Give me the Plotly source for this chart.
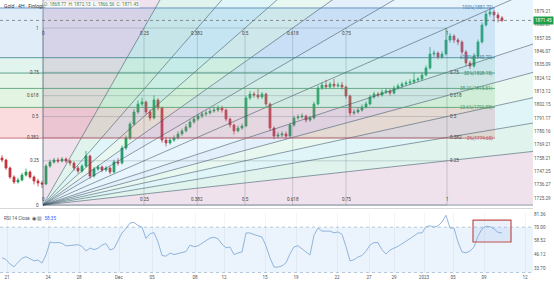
import plotly.graph_objects as go
from plotly.subplots import make_subplots

# ---------------- data ----------------
first_open = 1758.2
closes = [1756.6, 1750.0, 1742.6, 1738.5, 1740.1, 1744.2, 1746.7, 1742.6, 1739.3, 1737.7,
          1736.8, 1751.6, 1754.9, 1756.6, 1755.8, 1757.4, 1755.8, 1754.1, 1750.0, 1747.5,
          1751.6, 1759.9, 1743.4, 1749.2, 1750.8, 1748.4, 1750.0, 1746.7, 1754.9, 1754.1,
          1766.5, 1774.7, 1786.2, 1796.1, 1802.7, 1804.3, 1796.1, 1791.2, 1806.0, 1799.4,
          1773.0, 1770.6, 1773.0, 1774.7, 1778.0, 1780.5, 1783.7, 1787.9, 1790.3, 1792.8,
          1794.4, 1795.3, 1796.9, 1797.7, 1799.4, 1797.7, 1790.3, 1785.4, 1780.5, 1782.9,
          1784.6, 1807.6, 1810.9, 1810.1, 1808.4, 1810.9, 1802.7, 1782.9, 1776.3, 1777.2,
          1778.0, 1776.3, 1785.4, 1791.2, 1792.0, 1792.8, 1789.5, 1791.2, 1802.7, 1815.8,
          1818.3, 1816.7, 1819.1, 1817.5, 1818.3, 1816.7, 1809.3, 1795.3, 1796.1, 1797.7,
          1800.2, 1802.7, 1808.4, 1810.9, 1810.1, 1812.5, 1813.4, 1811.7, 1815.8, 1817.5,
          1819.1, 1820.0, 1820.8, 1822.4, 1823.2, 1826.5, 1832.3, 1843.8, 1844.6, 1841.4,
          1843.8, 1855.3, 1858.6, 1855.3, 1853.7, 1845.5, 1836.4, 1833.9, 1842.2, 1853.7,
          1867.7, 1876.7, 1878.4, 1875.9, 1873.5, 1871.45]
highs = [1760.5, 1757.5, 1751.2, 1744.0, 1742.0, 1746.0, 1749.5, 1748.0, 1743.8, 1741.0,
         1739.5, 1753.2, 1757.0, 1758.3, 1758.5, 1759.0, 1758.6, 1757.0, 1755.3, 1751.8,
         1753.4, 1764.0, 1761.0, 1751.0, 1752.6, 1752.0, 1751.5, 1751.2, 1756.8, 1758.0,
         1768.5, 1776.9, 1788.0, 1798.5, 1805.6, 1808.0, 1805.5, 1798.0, 1809.8, 1807.5,
         1800.5, 1775.5, 1775.0, 1776.8, 1780.2, 1782.4, 1786.0, 1790.0, 1792.5, 1794.8,
         1796.5, 1797.6, 1799.2, 1800.6, 1801.8, 1801.2, 1798.8, 1791.5, 1786.5, 1785.0,
         1786.6, 1809.5, 1813.5, 1812.8, 1815.0, 1812.6, 1812.0, 1803.8, 1784.2, 1779.5,
         1780.2, 1779.8, 1787.2, 1793.0, 1794.2, 1795.0, 1794.0, 1793.0, 1804.5, 1818.0,
         1820.6, 1822.5, 1821.0, 1823.4, 1820.4, 1820.8, 1817.8, 1810.4, 1798.4, 1800.0,
         1802.3, 1804.6, 1810.2, 1812.8, 1812.6, 1814.5, 1815.6, 1815.0, 1817.8, 1819.4,
         1821.0, 1822.0, 1823.2, 1828.5, 1825.0, 1828.6, 1834.5, 1849.6, 1846.8, 1846.0,
         1846.0, 1865.2, 1861.0, 1860.0, 1857.0, 1855.0, 1847.0, 1838.2, 1844.5, 1855.8,
         1869.8, 1878.8, 1881.7, 1880.2, 1878.0, 1875.0]
lows = [1754.8, 1748.6, 1741.0, 1736.9, 1737.2, 1739.0, 1743.0, 1741.2, 1736.5, 1734.8,
        1733.6, 1735.9, 1750.2, 1753.5, 1754.0, 1754.6, 1754.2, 1752.0, 1748.0, 1745.6,
        1746.2, 1750.4, 1741.2, 1742.3, 1747.8, 1746.6, 1746.9, 1744.8, 1745.5, 1752.0,
        1752.8, 1765.0, 1773.0, 1784.8, 1794.5, 1800.6, 1794.0, 1789.0, 1790.0, 1797.5,
        1770.8, 1767.8, 1769.2, 1771.5, 1773.5, 1776.5, 1779.2, 1782.5, 1786.4, 1788.9,
        1791.0, 1792.8, 1793.9, 1795.5, 1796.2, 1795.6, 1788.4, 1783.2, 1777.6, 1779.2,
        1781.5, 1783.6, 1806.0, 1807.8, 1806.5, 1806.9, 1800.5, 1780.6, 1773.8, 1774.6,
        1775.5, 1774.0, 1775.2, 1784.0, 1789.8, 1790.6, 1787.5, 1788.0, 1790.0, 1801.5,
        1814.2, 1815.0, 1815.4, 1816.0, 1816.2, 1814.5, 1807.2, 1792.8, 1793.5, 1794.8,
        1796.4, 1799.0, 1801.5, 1807.0, 1808.2, 1808.8, 1811.0, 1809.6, 1810.5, 1814.4,
        1816.0, 1817.6, 1818.5, 1819.6, 1820.8, 1822.0, 1825.4, 1831.0, 1841.5, 1839.4,
        1840.0, 1842.6, 1853.2, 1852.8, 1851.0, 1843.2, 1833.8, 1831.6, 1832.6, 1841.0,
        1852.4, 1866.4, 1874.6, 1870.5, 1869.8, 1870.2]
rsi = [43.0, 41.5, 37.5, 35.0, 39.0, 42.5, 44.0, 42.0, 40.3, 41.0,
       38.3, 45.5, 56.9, 56.2, 56.5, 55.8, 53.5, 53.8, 54.0, 54.6,
       53.0, 49.0, 51.6, 50.2, 51.4, 54.2, 55.5, 49.8, 51.2, 58.5,
       64.9, 68.7, 73.7, 74.2, 71.5, 70.1, 60.0, 64.2, 65.2, 57.0,
       45.0, 44.4, 47.2, 45.8, 46.5, 47.5, 48.5, 54.2, 52.8, 53.5,
       55.8, 57.8, 60.4, 61.1, 59.8, 55.0, 51.8, 52.5, 45.8, 47.2,
       48.1, 64.9, 64.9, 63.5, 62.4, 61.3, 53.5, 42.8, 34.8, 34.8,
       35.8, 38.6, 46.5, 52.6, 53.6, 50.8, 47.6, 45.4, 63.0, 69.2,
       66.5, 66.8, 66.5, 65.0, 65.8, 63.6, 53.0, 40.2, 41.3, 43.7,
       45.0, 48.8, 54.2, 56.4, 56.4, 50.0, 46.3, 49.8, 51.2, 53.1,
       55.3, 57.5, 60.4, 62.2, 64.9, 64.9, 70.5, 71.2, 70.1, 71.0,
       74.6, 80.5, 69.2, 69.2, 56.9, 48.1, 47.4, 48.9, 52.5, 62.0,
       68.6, 70.8, 70.5, 68.5, 65.5, 64.9]

x_tick_pos = [1.25, 11.5, 19.25, 29.25, 37.5, 48.25, 55.5, 65.75, 73.5, 83.75,
              91.75, 98, 105.5, 112.75, 120.5, 130.75]
x_tick_text = ['21', '24', '28', 'Dec', '05', '08', '12', '15', '19', '22',
               '27', '29', '2023', '05', '09', '12']
price_ticks = [1879.21, 1868.07, 1857.05, 1846.07, 1835.09, 1824.12, 1813.12, 1802.15,
               1791.17, 1780.16, 1769.21, 1758.21, 1747.25, 1736.27, 1725.29]
rsi_ticks = [81.36, 70.00, 58.52, 46.12, 33.70]

fan_levels = [0, 0.25, 0.382, 0.5, 0.618, 0.75, 1]
fan_level_text = ['0', '0.25', '0.382', '0.5', '0.618', '0.75', '1']
fan_start = (10.25, 1719.5)
fan_end = (111.25, 1865.2)

retr_levels = [0, 0.236, 0.382, 0.5, 0.618, 1]
retr_low, retr_high = 1774.6, 1881.7
retr_x = (-6, 123.25)
last_price = 1871.45
rsi_box = (117.75, 127.25, 56.9, 76.3)

# ---------------- styles ----------------
wedge_colors = ['rgba(175,110,165,0.20)', 'rgba(70,190,150,0.17)', 'rgba(50,185,205,0.15)',
                'rgba(90,200,150,0.14)', 'rgba(70,150,230,0.15)', 'rgba(100,185,235,0.15)']
retr_band_colors = ['rgba(235,95,105,0.22)', 'rgba(120,200,110,0.20)', 'rgba(110,205,130,0.18)',
                    'rgba(90,200,160,0.18)', 'rgba(100,165,225,0.20)']
retr_line_colors = ['#c05060', '#4f9a6a', '#4a9a70', '#3c8c78', '#3a7f8c', '#4f7fb0']
FS = 4.6

fig = make_subplots(rows=2, cols=1, shared_xaxes=True)

x0, y0 = fan_start
x1, y1 = fan_end
dx, dy = x1 - x0, y1 - y0
K = 12.0

rays = [(dx, L * dy) for L in fan_levels] + [(L * dx, dy) for L in fan_levels[-2::-1]]
wedge_k = list(range(6)) + list(range(5, -1, -1))

for j in range(len(retr_levels) - 1):
    pa = retr_low + retr_levels[j] * (retr_high - retr_low)
    pb = retr_low + retr_levels[j + 1] * (retr_high - retr_low)
    fig.add_trace(go.Scatter(x=[retr_x[0], retr_x[1], retr_x[1], retr_x[0]], y=[pa, pa, pb, pb],
                             fill='toself', fillcolor=retr_band_colors[j], mode='none',
                             hoverinfo='skip', showlegend=False), row=1, col=1)

for j in range(len(rays) - 1):
    a, b = rays[j], rays[j + 1]
    fig.add_trace(go.Scatter(x=[x0, x0 + K * a[0], x0 + K * b[0]],
                             y=[y0, y0 + K * a[1], y0 + K * b[1]],
                             fill='toself', fillcolor=wedge_colors[wedge_k[j]], mode='none',
                             hoverinfo='skip', showlegend=False), row=1, col=1)

gx, gy = [], []
for L in fan_levels:
    gx += [x0, x1, None]
    gy += [y0 + L * dy, y0 + L * dy, None]
    gx += [x0 + L * dx, x0 + L * dx, None]
    gy += [y0, y1, None]
fig.add_trace(go.Scatter(x=gx, y=gy, mode='lines', line=dict(color='rgba(90,110,120,0.45)', width=0.6),
                         hoverinfo='skip', showlegend=False), row=1, col=1)

rx, ry = [], []
for r in rays:
    rx += [x0, x0 + K * r[0], None]
    ry += [y0, y0 + K * r[1], None]
fig.add_trace(go.Scatter(x=rx, y=ry, mode='lines', line=dict(color='rgba(60,85,100,0.8)', width=0.7),
                         hoverinfo='skip', showlegend=False), row=1, col=1)

for j, L in enumerate(retr_levels):
    p = retr_low + L * (retr_high - retr_low)
    fig.add_trace(go.Scatter(x=[retr_x[0], retr_x[1]], y=[p, p], mode='lines',
                             line=dict(color=retr_line_colors[j], width=0.8),
                             hoverinfo='skip', showlegend=False), row=1, col=1)

opens = [first_open] + closes[:-1]
xs = list(range(len(closes)))
fig.add_trace(go.Candlestick(x=xs, open=opens, high=highs, low=lows, close=closes,
                             increasing=dict(line=dict(color='#1f9e55', width=0.8), fillcolor='#1f9e55'),
                             decreasing=dict(line=dict(color='#c8323c', width=0.8), fillcolor='#c8323c'),
                             whiskerwidth=0, showlegend=False, hoverinfo='skip'), row=1, col=1)

fig.add_trace(go.Scatter(x=xs, y=rsi, mode='lines', line=dict(color='#86aed8', width=0.9),
                         hoverinfo='skip', showlegend=False), row=2, col=1)

shapes = []
shapes.append(dict(type='rect', xref='x2 domain', yref='y2', x0=0, x1=1, y0=30, y1=70,
                   fillcolor='#ebf3fc', line=dict(width=0), layer='below'))
shapes.append(dict(type='line', xref='x2 domain', yref='y2', x0=0, x1=1, y0=70, y1=70,
                   line=dict(color='#9ab3cc', width=0.7, dash='dot')))
shapes.append(dict(type='line', xref='x2 domain', yref='y2', x0=0, x1=1, y0=30, y1=30,
                   line=dict(color='#9ab3cc', width=0.7, dash='dot')))
shapes.append(dict(type='rect', xref='x2', yref='y2', x0=rsi_box[0], x1=rsi_box[1],
                   y0=rsi_box[2], y1=rsi_box[3], fillcolor='rgba(120,170,230,0.15)',
                   line=dict(color='#c0504d', width=1.2)))
shapes.append(dict(type='line', xref='x domain', yref='y', x0=0, x1=1, y0=last_price, y1=last_price,
                   line=dict(color='#666', width=0.7, dash='dot')))
fig.update_layout(shapes=shapes)

ann = []
for L, t in zip(fan_levels, fan_level_text):
    ann.append(dict(x=x0 - 0.4, y=y0 + L * dy, xref='x', yref='y', text=t, showarrow=False,
                    xanchor='right', yanchor='middle', font=dict(size=FS, color='#444')))
    ann.append(dict(x=x0 + L * dx, y=y1 - 1.2, xref='x', yref='y', text=t, showarrow=False,
                    xanchor='center', yanchor='top', font=dict(size=FS, color='#444')))
    ann.append(dict(x=x0 + L * dx, y=y0 + 0.8, xref='x', yref='y', text=t, showarrow=False,
                    xanchor='center', yanchor='bottom', font=dict(size=FS, color='#444')))
    if 0 < L < 1:
        ann.append(dict(x=x1 + 0.3, y=y0 + L * dy, xref='x', yref='y', text=t, showarrow=False,
                        xanchor='left', yanchor='middle', font=dict(size=FS, color='#444')))
for j, L in enumerate(retr_levels):
    p = retr_low + L * (retr_high - retr_low)
    pct = ('%g' % (L * 100)) + '%'
    ann.append(dict(x=retr_x[1], y=p, xref='x', yref='y', text='%s(%.2f)' % (pct, p),
                    showarrow=False, xanchor='right', yanchor='middle',
                    font=dict(size=FS, color=retr_line_colors[j])))
ann.append(dict(x=0.003, y=0.995, xref='paper', yref='y domain', text='Gold · 4H · Finlogix',
                showarrow=False, xanchor='left', yanchor='top', font=dict(size=5, color='#333')))
ann.append(dict(x=0.081, y=0.995, xref='paper', yref='y domain',
                text='O: 1868.77  H: 1872.13  L: 1866.56  C: 1871.45',
                showarrow=False, xanchor='left', yanchor='top', bgcolor='rgba(255,255,255,0.75)',
                borderpad=0, font=dict(size=4.6, color='#3a8a5a')))
ann.append(dict(x=1.0, y=last_price, xref='paper', yref='y', text='%.2f' % last_price,
                showarrow=False, xanchor='left', yanchor='middle', bgcolor='#1e9e4a', borderpad=1,
                font=dict(size=FS, color='white')))
ann.append(dict(x=0.004, y=0.96, xref='paper', yref='y2 domain',
                text="RSI 14 Close  ◉ ▥  <span style='color:#2962ff'>58.35</span>",
                showarrow=False, xanchor='left', yanchor='top', font=dict(size=4.6, color='#555')))
fig.update_layout(annotations=ann)

xr = [-0.5, 132.75]
fig.update_layout(
    width=554, height=282, margin=dict(l=0, r=21, t=0, b=9),
    paper_bgcolor='white', plot_bgcolor='white', showlegend=False,
    font=dict(family='Roboto, Arial, sans-serif'),
    xaxis=dict(range=xr, rangeslider=dict(visible=False), showticklabels=False, showgrid=False,
               zeroline=False, showline=True, linecolor='#d8d8d8', linewidth=1, fixedrange=True),
    xaxis2=dict(range=xr, tickvals=x_tick_pos, ticktext=x_tick_text, tickfont=dict(size=FS, color='#555'),
                showgrid=True, gridcolor='rgba(0,0,0,0.04)', zeroline=False, ticks='', fixedrange=True),
    yaxis=dict(domain=[0.2381, 1], range=[1717.1, 1888.26], side='right', tickvals=price_ticks,
               ticktext=['%.2f' % v for v in price_ticks], tickfont=dict(size=FS, color='#555'),
               showgrid=False, zeroline=False, ticks='', fixedrange=True),
    yaxis2=dict(domain=[0, 0.2234], range=[29.55, 83.39], side='right', tickvals=rsi_ticks,
                ticktext=['%.2f' % v for v in rsi_ticks], tickfont=dict(size=FS, color='#555'),
                showgrid=False, zeroline=False, ticks='', fixedrange=True),
)

fig.write_html('out.html')
